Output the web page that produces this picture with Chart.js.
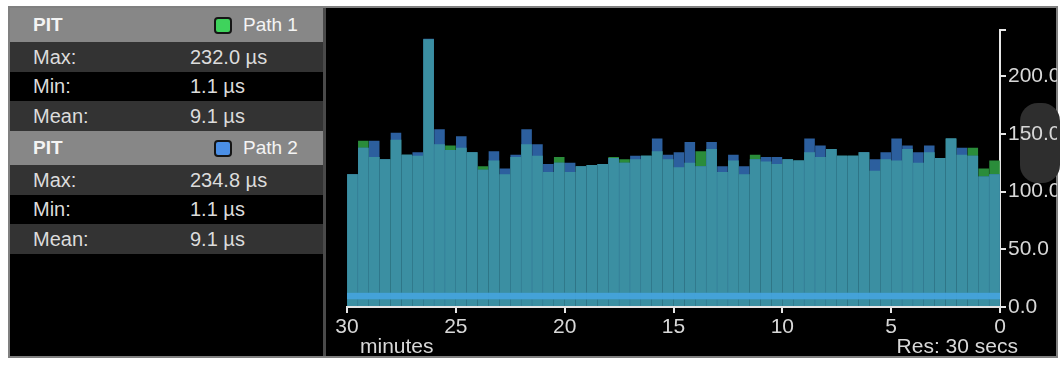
<!DOCTYPE html>
<html>
<head>
<meta charset="utf-8">
<script src="https://cdn.jsdelivr.net/npm/chart.js@4"></script>
<style>
  body { margin: 0; background: #fff; width: 1063px; height: 369px; position: relative; overflow: hidden;
         font-family: "Liberation Sans", Arial, sans-serif; }
  #frame { position: absolute; left: 8px; top: 6px; width: 1050px; height: 352px; box-sizing: border-box;
           border: 2px solid #808080; background: #000; }
  .row { position: absolute; left: 10px; width: 313px; color: #dcdcdc; font-size: 20px; }
  .row span { position: absolute; top: 0; }
  .hdr { background: #878787; color: #f4f4f4; }
  .dark { background: #333; }
  .blk { background: #000; }
  .sw { position: absolute; width: 14px; height: 13px; border: 2px solid #151515; border-radius: 4px; }
  #divider { position: absolute; left: 323px; top: 8px; width: 3px; height: 348px; background: #4a4a4a; }
  #thumb { position: absolute; left: 1020px; top: 103px; width: 40px; height: 80px; border-radius: 18px; background: #2e2e2e; }
  #wrap { position: absolute; left: 326px; top: 9px; width: 731px; height: 348px; }
  .axisText { position: absolute; color: #d8d8d8; font-size: 21px; }
</style>
</head>
<body>
<div id="frame"></div>
<div id="thumb"></div>
<div id="panel"></div>
<div id="divider"></div>
<div id="wrap"><canvas id="pitChart"></canvas></div>
<div class="axisText" style="left:360px; top:334px;">minutes</div>
<div class="axisText" style="right:45px; top:334px;">Res: 30 secs</div>
<script>
// stats table
const statLabels = ['Max:', 'Min:', 'Mean:'];
const path1Stats = ['232.0 µs', '1.1 µs', '9.1 µs'];
const path2Stats = ['234.8 µs', '1.1 µs', '9.1 µs'];

// 60 bins of 30 s, oldest (30 min ago) first
const binStarts = Array.from({ length: 60 }, (_, i) => (30 - i * 0.5).toFixed(1));

// PIT per bin (µs)
const path1 = [115, 144, 130, 128, 145, 132, 131, 232, 141, 140,
               138, 134, 122, 127, 115, 130, 141, 131, 117, 130,
               117, 122, 123, 124, 130, 128, 128, 131, 135, 128,
               121, 125, 135, 137, 117, 127, 115, 132, 126, 124,
               128, 127, 134, 130, 137, 131, 131, 134, 118, 128,
               127, 137, 125, 134, 129, 146, 132, 138, 120, 127];
const path2 = [115, 138, 144, 128, 151, 132, 134, 232.5, 154, 136,
               148, 134, 119, 135, 120, 132, 154, 141, 124, 125,
               125, 122, 123, 124, 129, 125, 131, 131, 146, 132,
               134, 143, 122, 143, 122, 132, 122, 128, 130, 130,
               128, 127, 146, 140, 137, 131, 131, 134, 128, 134,
               146, 140, 134, 140, 129, 146, 138, 131, 113, 115];
const meanBand = [7, 12];

const xTicks = [30, 25, 20, 15, 10, 5, 0];
const yTicks = [0, 50, 100, 150, 200];
const yMax = 240;

// left panel
const panel = document.getElementById('panel');
const rowsHtml = (top, name, swatch, vals) => {
  let html = `<div class="row hdr" style="top:${top}px;height:34px;line-height:34px;font-size:19px">
      <span style="left:23px;font-weight:bold">PIT</span>
      <div class="sw" style="left:204px;top:9px;background:${swatch}"></div>
      <span style="left:233px">${name}</span></div>`;
  const hs = [30, 29, 30];
  const cls = ['dark', 'blk', 'dark'];
  let y = top + 34;
  statLabels.forEach((l, i) => {
    html += `<div class="row ${cls[i]}" style="top:${y}px;height:${hs[i]}px;line-height:${hs[i]}px">
      <span style="left:23px">${l}</span><span style="left:180px">${vals[i]}</span></div>`;
    y += hs[i];
  });
  return html;
};
panel.innerHTML = rowsHtml(8, 'Path 1', '#3fd35c', path1Stats) + rowsHtml(131, 'Path 2', '#4b8fe6', path2Stats);

const overlap = path1.map((v, i) => Math.min(v, path2[i]));
const axisColor = '#e6e6e6';
const tickFont = { family: 'Liberation Sans', size: 21 };

new Chart(document.getElementById('pitChart'), {
  type: 'bar',
  data: {
    labels: binStarts,
    datasets: [
      { label: 'band', data: binStarts.map(() => meanBand), backgroundColor: '#44a2d8',
        barPercentage: 1, categoryPercentage: 1, grouped: false, order: 0 },
      { label: 'both', data: overlap, backgroundColor: '#3b8fa2',
        barPercentage: 0.97, categoryPercentage: 1, grouped: false, order: 1 },
      { label: 'Path 2', data: path2, backgroundColor: '#2c5f9e',
        barPercentage: 0.97, categoryPercentage: 1, grouped: false, order: 2 },
      { label: 'Path 1', data: path1, backgroundColor: '#2a8c3a',
        barPercentage: 0.97, categoryPercentage: 1, grouped: false, order: 3 }
    ]
  },
  options: {
    responsive: true,
    maintainAspectRatio: false,
    animation: false,
    layout: { padding: { left: 21, top: 21, right: 0, bottom: 0 } },
    plugins: { legend: { display: false }, tooltip: { enabled: false } },
    scales: {
      x: { display: false, offset: true },
      xt: {
        type: 'linear', position: 'bottom', min: 0, max: 30, reverse: true, offset: false,
        afterBuildTicks: s => { s.ticks = xTicks.map(v => ({ value: v })); },
        afterFit: s => { s.height = 50; },
        grid: { offset: false, drawOnChartArea: false, color: axisColor, tickLength: 6, lineWidth: 2 },
        border: { color: axisColor, width: 2 },
        ticks: { color: '#d8d8d8', font: tickFont, padding: 2, maxRotation: 0, callback: v => String(v) }
      },
      y: {
        position: 'right', min: 0, max: yMax,
        afterBuildTicks: s => { s.ticks = yTicks.concat([yMax]).map(v => ({ value: v })); },
        afterFit: s => { s.width = 57; },
        grid: { drawOnChartArea: false, color: axisColor, tickLength: 6, lineWidth: 2 },
        border: { color: axisColor, width: 2 },
        ticks: { color: '#d8d8d8', font: tickFont, padding: 2,
                 callback: v => v === yMax ? '' : Number(v).toFixed(1) }
      }
    }
  }
});
</script>
</body>
</html>
